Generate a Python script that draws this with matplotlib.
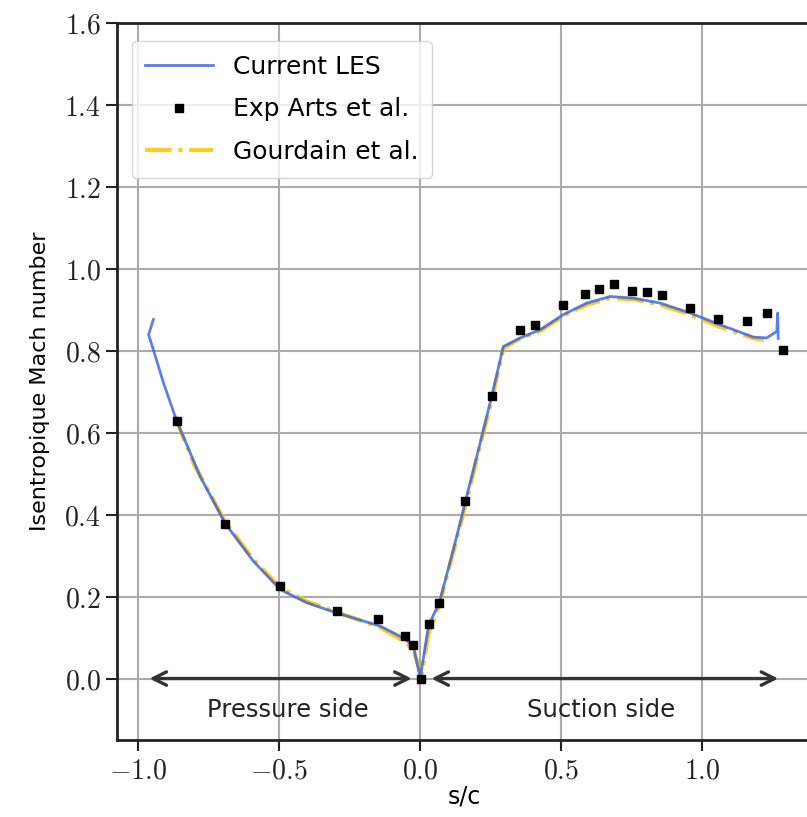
import matplotlib
matplotlib.use("Agg")
import matplotlib.pyplot as plt
import numpy as np

plt.rcParams['mathtext.fontset'] = 'cm'

# Current LES
les_x = [-0.946, -0.963, -0.946, -0.910, -0.863, -0.780, -0.691, -0.591, -0.496, -0.402,
         -0.296, -0.142, -0.059, -0.024, -0.006, 0.0, 0.03, 0.068, 0.118, 0.160, 0.213,
         0.254, 0.295, 0.355, 0.426, 0.508, 0.591, 0.674, 0.757, 0.851, 0.957, 1.064,
         1.182, 1.229, 1.265, 1.268, 1.270]
les_y = [0.876, 0.839, 0.802, 0.721, 0.628, 0.493, 0.378, 0.286, 0.217, 0.185,
         0.160, 0.128, 0.099, 0.079, 0.022, 0.0, 0.13, 0.185, 0.315, 0.43, 0.575,
         0.689, 0.81, 0.831, 0.851, 0.888, 0.916, 0.932, 0.928, 0.916, 0.892, 0.863,
         0.833, 0.831, 0.847, 0.892, 0.830]

# Gourdain et al.
gou_x = [-0.870, -0.800, -0.691, -0.591, -0.496, -0.402, -0.296, -0.142, -0.059, -0.024,
         -0.006, 0.005, 0.03, 0.068, 0.118, 0.160, 0.213, 0.254, 0.295, 0.355, 0.426,
         0.508, 0.591, 0.674, 0.757, 0.851, 0.957, 1.064, 1.182, 1.220]
gou_y = [0.640, 0.520, 0.382, 0.290, 0.222, 0.188, 0.162, 0.125, 0.092, 0.070,
         0.030, 0.01, 0.11, 0.18, 0.31, 0.42, 0.57, 0.68, 0.805, 0.83, 0.848,
         0.885, 0.912, 0.928, 0.925, 0.912, 0.888, 0.858, 0.830, 0.826]

# Exp Arts et al.
exp_x = [-0.863, -0.691, -0.496, -0.296, -0.148, -0.053, -0.024, 0.003, 0.03, 0.068,
         0.160, 0.254, 0.355, 0.408, 0.506, 0.585, 0.635, 0.686, 0.753, 0.804, 0.857,
         0.957, 1.056, 1.158, 1.229, 1.286]
exp_y = [0.628, 0.378, 0.225, 0.164, 0.146, 0.103, 0.083, 0.0, 0.132, 0.185,
         0.432, 0.689, 0.851, 0.863, 0.912, 0.938, 0.950, 0.963, 0.945, 0.943, 0.935,
         0.904, 0.878, 0.872, 0.892, 0.802]

x_ticks = [-1.0, -0.5, 0.0, 0.5, 1.0]
x_labels = [r'$-1.0$', r'$-0.5$', r'$0.0$', r'$0.5$', r'$1.0$']
y_ticks = [0.0, 0.2, 0.4, 0.6, 0.8, 1.0, 1.2, 1.4, 1.6]
y_labels = [r'$%.1f$' % v for v in y_ticks]

fig = plt.figure(figsize=(8.07, 8.17), dpi=100)
ax = fig.add_axes([0.145, 0.0942, 0.862, 0.878])

ax.plot(gou_x, gou_y, color='#FFC000', lw=3.0, ls='-.', label='Gourdain et al.', zorder=2, alpha=0.85)
ax.plot(les_x, les_y, color='#3560E0', lw=2.0, label='Current LES', zorder=3, alpha=0.8)
ax.plot(exp_x, exp_y, 's', color='black', ms=6, label='Exp Arts et al.', zorder=4, ls='none')

ax.annotate('', xy=(-0.97, 0.0), xytext=(-0.02, 0.0),
            arrowprops=dict(arrowstyle='<->', color='#333333', lw=2.4, mutation_scale=24), zorder=1)
ax.annotate('', xy=(0.03, 0.0), xytext=(1.28, 0.0),
            arrowprops=dict(arrowstyle='<->', color='#333333', lw=2.4, mutation_scale=24), zorder=1)
ax.text(-0.47, -0.077, 'Pressure side', fontsize=17.5, ha='center', va='center', color='#222222')
ax.text(0.64, -0.077, 'Suction side', fontsize=17.5, ha='center', va='center', color='#222222')

ax.set_xlim(-1.075, 1.392)
ax.set_ylim(-0.15, 1.6)
ax.set_xticks(x_ticks)
ax.set_xticklabels(x_labels)
ax.set_yticks(y_ticks)
ax.set_yticklabels(y_labels)
ax.tick_params(labelsize=20, direction='out', length=8, width=1.5, colors='#222222')
ax.grid(True, color='#aaaaaa', lw=1.5)
ax.set_axisbelow(True)
for s in ax.spines.values():
    s.set_linewidth(2.0)
    s.set_color('#222222')

ax.set_xlabel('s/c', fontsize=17, labelpad=0)
ax.set_ylabel('Isentropique Mach number', fontsize=16, labelpad=10)

handles, labels = ax.get_legend_handles_labels()
order = [1, 2, 0]
leg = ax.legend([handles[i] for i in order], [labels[i] for i in order],
                loc='upper left', fontsize=18, frameon=True, fancybox=True,
                borderpad=0.55, handlelength=2.7, labelspacing=0.75,
                bbox_to_anchor=(0.003, 0.992))
leg.get_frame().set_edgecolor('#cccccc')

fig.savefig('out.png', dpi=100)
